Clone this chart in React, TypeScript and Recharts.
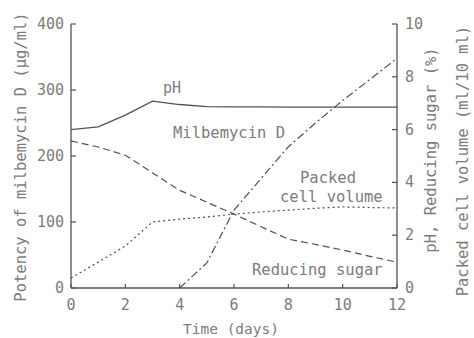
import { LineChart, Line, XAxis, YAxis, Customized } from "recharts";

// time in days
const days = [0, 1, 2, 3, 4, 5, 6, 7, 8, 9, 10, 11, 12];
// right axis series (pH, %, ml/10 ml)
const ph = [6.0, 6.1, 6.55, 7.08, 6.95, 6.87, 6.86, 6.86, 6.85, 6.85, 6.85, 6.85, 6.85];
const reducingSugar = [5.57, 5.34, 5.03, 4.36, 3.7, 3.25, 2.8, 2.32, 1.85, 1.65, 1.44, 1.2, 0.98];
const packedCellVolume = [0.38, 0.98, 1.59, 2.5, 2.61, 2.69, 2.8, 2.88, 2.95, 3.02, 3.07, 3.05, 3.03];
// left axis series (µg/ml)
const milbemycin = [null, null, null, null, 0, 38, 118, 166, 214, 250, 284, 316, 348];

const xTicks = [0, 2, 4, 6, 8, 10, 12];
const leftTicks = [0, 100, 200, 300, 400];
const rightTicks = [0, 2, 4, 6, 8, 10];

const rows = days.map((d, i) => ({
  day: d,
  ph: ph[i],
  sugar: reducingSugar[i],
  pcv: packedCellVolume[i],
  mil: milbemycin[i],
}));

const FONT = "'DejaVu Sans Mono', monospace";
const TEXT = "#7c7c7c";
const INK = "#525252";

const LeftTick = (props: any) => {
  const { x, y, payload } = props;
  return (
    <g>
      <line x1={x} y1={y} x2={x + 5} y2={y} stroke={INK} strokeWidth={1.2} />
      <text x={x - 7} y={y} dy={5} textAnchor="end" fill={TEXT} fontSize={15} fontFamily={FONT}>
        {payload.value}
      </text>
    </g>
  );
};

const RightTick = (props: any) => {
  const { x, y, payload } = props;
  return (
    <g>
      <line x1={x - 5} y1={y} x2={x} y2={y} stroke={INK} strokeWidth={1.2} />
      <text x={x + 8} y={y} dy={5} textAnchor="start" fill={TEXT} fontSize={15} fontFamily={FONT}>
        {payload.value}
      </text>
    </g>
  );
};

const BottomTick = (props: any) => {
  const { x, y, payload } = props;
  return (
    <g>
      <line x1={x} y1={y} x2={x} y2={y - 4} stroke={INK} strokeWidth={1.2} />
      <text x={x} y={y + 22} textAnchor="middle" fill={TEXT} fontSize={15} fontFamily={FONT}>
        {payload.value}
      </text>
    </g>
  );
};

const Annotations = () => (
  <g fill={TEXT} fontFamily={FONT}>
    <text x={163} y={93} fontSize={15}>pH</text>
    <text x={173} y={138} fontSize={15.5}>Milbemycin D</text>
    <text x={300} y={183} fontSize={15.5}>Packed</text>
    <text x={280} y={202} fontSize={15.5}>cell volume</text>
    <text x={252} y={275} fontSize={15.5}>Reducing sugar</text>
    <text x={231} y={334} fontSize={14.5} textAnchor="middle">Time (days)</text>
    <text
      transform="translate(26,157) rotate(-90)"
      fontSize={15.5}
      textAnchor="middle"
    >
      Potency of milbemycin D (μg/ml)
    </text>
    <text
      transform="translate(436,150) rotate(-90)"
      fontSize={15.5}
      textAnchor="middle"
    >
      pH, Reducing sugar (%)
    </text>
    <text
      transform="translate(468,161) rotate(-90)"
      fontSize={15.5}
      textAnchor="middle"
    >
      Packed cell volume (ml/10 ml)
    </text>
  </g>
);

export default function App() {
  return (
    <div style={{ position: "absolute", left: 0, top: 0, background: "#fff" }}>
      <LineChart
        width={474}
        height={338}
        data={rows}
        margin={{ top: 24, right: 0, left: 0, bottom: 0 }}
      >
        <XAxis
          dataKey="day"
          type="number"
          domain={[0, 12]}
          ticks={xTicks}
          height={50}
          tickSize={0}
          tickMargin={0}
          tickLine={false}
          axisLine={{ stroke: INK, strokeWidth: 1.3 }}
          tick={<BottomTick />}
          interval={0}
        />
        <YAxis
          yAxisId="left"
          orientation="left"
          domain={[0, 400]}
          ticks={leftTicks}
          width={71}
          tickSize={0}
          tickMargin={0}
          tickLine={false}
          axisLine={{ stroke: INK, strokeWidth: 1.3 }}
          tick={<LeftTick />}
          interval={0}
        />
        <YAxis
          yAxisId="right"
          orientation="right"
          domain={[0, 10]}
          ticks={rightTicks}
          width={77}
          tickSize={0}
          tickMargin={0}
          tickLine={false}
          axisLine={{ stroke: INK, strokeWidth: 1.3 }}
          tick={<RightTick />}
          interval={0}
        />
        <Line
          yAxisId="right"
          dataKey="ph"
          type="linear"
          stroke={INK}
          strokeWidth={1.3}
          dot={false}
          isAnimationActive={false}
        />
        <Line
          yAxisId="right"
          dataKey="sugar"
          type="linear"
          stroke={INK}
          strokeWidth={1.2}
          strokeDasharray="7 4"
          dot={false}
          isAnimationActive={false}
        />
        <Line
          yAxisId="right"
          dataKey="pcv"
          type="linear"
          stroke={INK}
          strokeWidth={1.2}
          strokeDasharray="2 3"
          dot={false}
          isAnimationActive={false}
        />
        <Line
          yAxisId="left"
          dataKey="mil"
          type="linear"
          stroke={INK}
          strokeWidth={1.2}
          strokeDasharray="8 3 2 3"
          dot={false}
          isAnimationActive={false}
        />
        <Customized component={Annotations} />
      </LineChart>
    </div>
  );
}
